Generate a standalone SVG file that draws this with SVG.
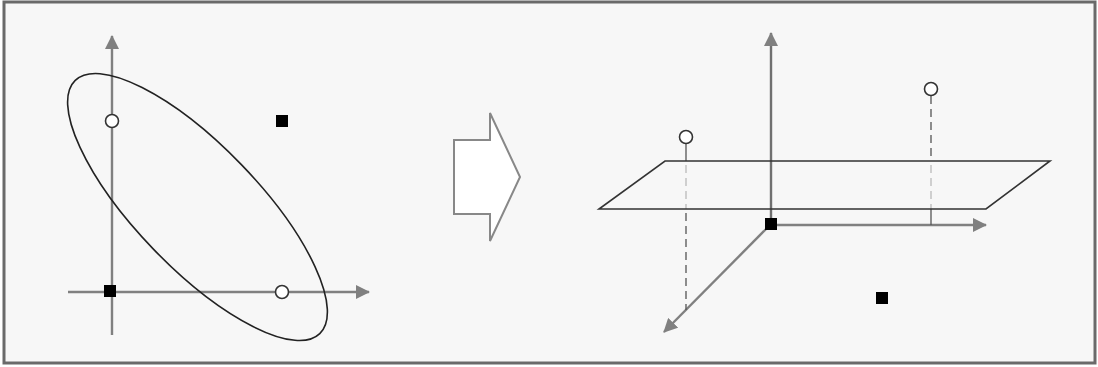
<svg xmlns="http://www.w3.org/2000/svg" width="1098" height="367" viewBox="0 0 1098 367">
<defs>
<style>
.axis{stroke:#808080;stroke-width:2.4;fill:none}
.plane{stroke:#333;stroke-width:1.6;fill:none}
.dash{stroke:#555;stroke-width:1.3;stroke-dasharray:8,5;fill:none}
.dashlight{stroke:#bbb;stroke-width:1.3;stroke-dasharray:8,5;fill:none}
.solid{stroke:#555;stroke-width:1.3;fill:none}
.open{fill:#fff;stroke:#333;stroke-width:1.6}
.sq{fill:#000}
</style>
<marker id="ah" viewBox="0 0 14 14" refX="13" refY="7" markerWidth="14" markerHeight="14" markerUnits="userSpaceOnUse" orient="auto">
<path d="M0,0 L14,7 L0,14 Z" fill="#808080"/>
</marker>
</defs>
<rect x="4" y="2" width="1091" height="361" fill="#f7f7f7" stroke="#6a6a6a" stroke-width="3"/>

<g id="connectors">
<line class="axis" x1="112" y1="335" x2="112" y2="36" marker-end="url(#ah)"/>
<line class="axis" x1="68" y1="292" x2="369" y2="292" marker-end="url(#ah)"/>
<line class="axis" x1="771" y1="224" x2="771" y2="33" marker-end="url(#ah)" style="stroke:#707070"/>
<line class="axis" x1="771" y1="225" x2="986" y2="225" marker-end="url(#ah)"/>
<line class="axis" x1="771" y1="224" x2="664" y2="332" marker-end="url(#ah)"/>
<line class="solid" x1="686" y1="143" x2="686" y2="161"/>
<line class="dashlight" x1="686" y1="165" x2="686" y2="209"/>
<line class="dash" x1="686" y1="213" x2="686" y2="310"/>
<line class="dash" x1="931" y1="96" x2="931" y2="161"/>
<line class="dashlight" x1="931" y1="165" x2="931" y2="209"/>
<line class="solid" x1="931" y1="209" x2="931" y2="225"/>
</g>

<g id="ellipse">
<ellipse cx="197.5" cy="207" rx="176" ry="61" transform="rotate(46 197.5 207)" fill="none" stroke="#222" stroke-width="1.6"/>
</g>
<g id="left-open-top"><circle class="open" cx="112" cy="121" r="6.5"/></g>
<g id="left-open-right"><circle class="open" cx="282" cy="292" r="6.5"/></g>
<g id="left-square-origin"><rect class="sq" x="104" y="285" width="12" height="12"/></g>
<g id="left-square-top"><rect class="sq" x="276" y="115" width="12" height="12"/></g>

<g id="block-arrow">
<path d="M454,140 L490,140 L490,113 L520,177 L490,241 L490,214 L454,214 Z" fill="#fff" stroke="#888" stroke-width="2"/>
</g>

<g id="plane">
<path class="plane" d="M665,161 L1050,161 L986,209 L599,209 Z"/>
</g>
<g id="right-open-left"><circle class="open" cx="686" cy="137" r="6.5"/></g>
<g id="right-open-right"><circle class="open" cx="931" cy="89" r="6.5"/></g>
<g id="right-square-origin"><rect class="sq" x="765" y="218" width="12" height="12"/></g>
<g id="right-square-bottom"><rect class="sq" x="876" y="292" width="12" height="12"/></g>
</svg>
